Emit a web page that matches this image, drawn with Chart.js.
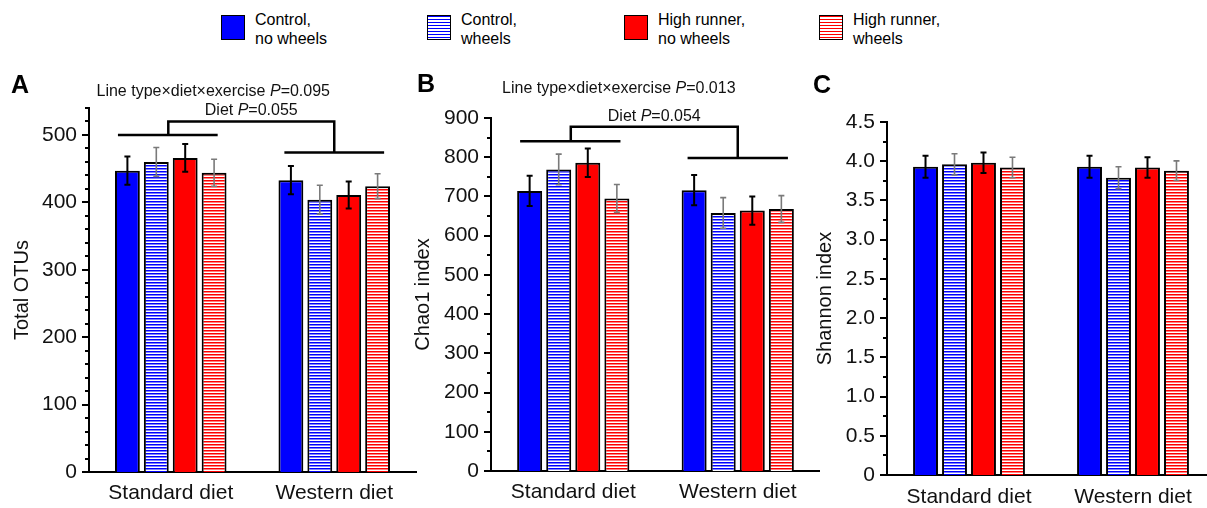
<!DOCTYPE html>
<html lang="en">
<head>
<meta charset="utf-8">
<title>Gut microbial diversity by line type, diet and exercise</title>
<script src="https://cdn.jsdelivr.net/npm/chart.js@4.4.1/dist/chart.umd.min.js"></script>
<style>
  html, body { margin: 0; padding: 0; background: #fff; }
  body { position: relative; width: 1207px; height: 508px; overflow: hidden;
         font-family: "Liberation Sans", Arial, Helvetica, sans-serif; color: #000; }
  canvas { position: absolute; top: 0; }
  #legend .sw { position: absolute; top: 15px; width: 24px; height: 25px; box-sizing: border-box; border: 1px solid #000; }
  #legend .lbl { position: absolute; top: 10px; font-size: 16px; line-height: 19px; white-space: nowrap; }
</style>
</head>
<body>
<div id="legend"></div>
<canvas id="panelA" width="420" height="508" style="left:0px"></canvas>
<canvas id="panelB" width="420" height="508" style="left:400px"></canvas>
<canvas id="panelC" width="420" height="508" style="left:800px"></canvas>
<script>
// ---- data -------------------------------------------------------------
const categories = ['Standard diet', 'Western diet'];
const seriesNames = [
  ['Control,', 'no wheels'],
  ['Control,', 'wheels'],
  ['High runner,', 'no wheels'],
  ['High runner,', 'wheels']
];

// one row per series, one column per diet: mean and SEM
const otuMean     = [[447, 433], [460, 404], [466, 411], [444, 424]];
const otuErr      = [[21, 21], [21.5, 21.5], [20.5, 20], [20, 18.5]];
const chaoMean    = [[714, 716], [769, 658], [786, 664], [695, 668]];
const chaoErr     = [[38.5, 38.5], [39, 39], [36.5, 36], [35.5, 34]];
const shannonMean = [[3.93, 3.93], [3.96, 3.79], [3.98, 3.92], [3.92, 3.88]];
const shannonErr  = [[0.14, 0.14], [0.135, 0.14], [0.13, 0.13], [0.13, 0.125]];

// y-axis tick labels
const otuTicks     = [0, 100, 200, 300, 400, 500];
const chaoTicks    = [0, 100, 200, 300, 400, 500, 600, 700, 800, 900];
const shannonTicks = [0, 0.5, 1.0, 1.5, 2.0, 2.5, 3.0, 3.5, 4.0, 4.5];

// ANOVA P values: line type x diet x exercise, diet
const otuP  = ['0.095', '0.055'];
const chaoP = ['0.013', '0.054'];

// ---- styling ----------------------------------------------------------
const FONT = '"Liberation Sans", Arial, Helvetica, sans-serif';
const BLUE = '#0000ff', RED = '#ff0000';

function stripes(color) {
  const c = document.createElement('canvas');
  c.width = 4; c.height = 3;
  const g = c.getContext('2d');
  g.fillStyle = '#fff'; g.fillRect(0, 0, 4, 3);
  g.fillStyle = color; g.fillRect(0, 0, 4, 1.5);
  return g.createPattern(c, 'repeat');
}

const seriesStyle = [
  { fill: BLUE,          css: BLUE, striped: false, err: '#000',    errW: 2 },
  { fill: stripes(BLUE), css: BLUE, striped: true,  err: '#7a7a7a', errW: 1.6 },
  { fill: RED,           css: RED,  striped: false, err: '#000',    errW: 2 },
  { fill: stripes(RED),  css: RED,  striped: true,  err: '#7a7a7a', errW: 1.6 }
];

// ---- legend -----------------------------------------------------------
const legendX = [221, 427, 624, 819];
const legend = document.getElementById('legend');
seriesNames.forEach((name, i) => {
  const st = seriesStyle[i];
  const sw = document.createElement('div');
  sw.className = 'sw';
  sw.style.left = legendX[i] + 'px';
  sw.style.background = st.striped
    ? `repeating-linear-gradient(to bottom, ${st.css} 0px, ${st.css} 1.5px, #fff 1.5px, #fff 3px)`
    : st.css;
  const lb = document.createElement('div');
  lb.className = 'lbl';
  lb.style.left = (legendX[i] + 34) + 'px';
  lb.innerHTML = name.join('<br>');
  legend.appendChild(sw);
  legend.appendChild(lb);
});

// ---- plugins ----------------------------------------------------------
function richText(ctx, parts, cx, baseY, size) {
  const widths = parts.map(([t, it]) => {
    ctx.font = `${it ? 'italic ' : ''}${size}px ${FONT}`;
    return ctx.measureText(t).width;
  });
  let x = cx - widths.reduce((a, b) => a + b, 0) / 2;
  ctx.textAlign = 'left';
  ctx.textBaseline = 'alphabetic';
  parts.forEach(([t, it], k) => {
    ctx.font = `${it ? 'italic ' : ''}${size}px ${FONT}`;
    ctx.fillText(t, x, baseY);
    x += widths[k];
  });
}

// major and minor tick marks on the value axis
const axisTicks = {
  id: 'axisTicks',
  afterDraw(chart, _args, o) {
    const ys = chart.scales.y, ctx = chart.ctx, x0 = chart.chartArea.left;
    ctx.save();
    ctx.strokeStyle = '#000';
    ctx.lineWidth = 2;
    const n = Math.round((ys.max - ys.min) / o.minor);
    for (let k = 0; k <= n; k++) {
      const v = ys.min + k * o.minor;
      const r = v / o.major;
      const len = Math.abs(r - Math.round(r)) < 1e-6 ? 7 : 4;
      const py = Math.round(ys.getPixelForValue(v));
      ctx.beginPath();
      ctx.moveTo(x0 - len, py);
      ctx.lineTo(x0, py);
      ctx.stroke();
    }
    ctx.restore();
  }
};

// mean +/- SEM whiskers
const errorBars = {
  id: 'errorBars',
  afterDatasetsDraw(chart) {
    const ys = chart.scales.y, ctx = chart.ctx;
    ctx.save();
    chart.data.datasets.forEach((ds, i) => {
      chart.getDatasetMeta(i).data.forEach((bar, j) => {
        const top = ys.getPixelForValue(ds.data[j] + ds.errors[j]);
        const bot = ys.getPixelForValue(ds.data[j] - ds.errors[j]);
        ctx.strokeStyle = ds.errorColor;
        ctx.lineWidth = ds.errorWidth;
        ctx.beginPath();
        ctx.moveTo(bar.x, top); ctx.lineTo(bar.x, bot);
        ctx.moveTo(bar.x - 3, top); ctx.lineTo(bar.x + 3, top);
        ctx.moveTo(bar.x - 3, bot); ctx.lineTo(bar.x + 3, bot);
        ctx.stroke();
      });
    });
    ctx.restore();
  }
};

// panel letter, diet bracket and P values
const statsNotes = {
  id: 'statsNotes',
  afterDraw(chart, _args, o) {
    const ctx = chart.ctx, xs = chart.scales.x, ys = chart.scales.y;
    ctx.save();
    ctx.fillStyle = '#000';
    ctx.textAlign = 'center';
    ctx.textBaseline = 'alphabetic';
    ctx.font = `bold 25px ${FONT}`;
    ctx.fillText(o.letter, o.letterX, o.letterY);
    if (o.p) {
      const c0 = xs.getPixelForValue(0), c1 = xs.getPixelForValue(1), w = c1 - c0;
      const [yL, yTop, yR] = o.bracket.map(v => ys.getPixelForValue(v));
      const lx = c0 - 0.015 * w;
      ctx.strokeStyle = '#000';
      ctx.lineWidth = 2.5;
      ctx.lineJoin = 'miter';
      ctx.beginPath();
      ctx.moveTo(c0 - 0.323 * w, yL); ctx.lineTo(c0 + 0.287 * w, yL);
      ctx.moveTo(lx, yL); ctx.lineTo(lx, yTop); ctx.lineTo(c1, yTop); ctx.lineTo(c1, yR);
      ctx.moveTo(c1 - 0.305 * w, yR); ctx.lineTo(c1 + 0.305 * w, yR);
      ctx.stroke();
      ctx.fillStyle = '#111';
      richText(ctx, [['Line type\u00d7diet\u00d7exercise ', false], ['P', true], ['=' + o.p[0], false]],
               c0 + o.noteShift * w, ys.getPixelForValue(o.text[0]), 16);
      richText(ctx, [['Diet ', false], ['P', true], ['=' + o.p[1], false]],
               (lx + c1) / 2, ys.getPixelForValue(o.text[1]), 16);
    }
    ctx.restore();
  }
};

// ---- panels -----------------------------------------------------------
function makePanel(id, cfg) {
  return new Chart(document.getElementById(id), {
    type: 'bar',
    data: {
      labels: categories,
      datasets: cfg.mean.map((m, i) => ({
        label: seriesNames[i].join(' '),
        data: m,
        errors: cfg.err[i],
        errorColor: seriesStyle[i].err,
        errorWidth: seriesStyle[i].errW,
        backgroundColor: seriesStyle[i].fill,
        borderColor: '#000',
        borderWidth: 2,
        borderSkipped: 'start',
        categoryPercentage: 0.707,
        barPercentage: 0.86
      }))
    },
    options: {
      responsive: false,
      animation: false,
      events: [],
      layout: { padding: { left: 0, right: cfg.padRight, top: cfg.padTop, bottom: 0 } },
      plugins: {
        legend: { display: false },
        tooltip: { enabled: false },
        axisTicks: { minor: cfg.minor, major: cfg.major },
        statsNotes: cfg.notes
      },
      scales: {
        x: {
          grid: { display: false, drawTicks: false },
          border: { display: true, color: '#000', width: 2 },
          ticks: { color: '#111', font: { family: FONT, size: 21 }, padding: cfg.xPad, maxRotation: 0 },
          afterFit: s => { s.height = cfg.xHeight; }
        },
        y: {
          min: 0,
          max: cfg.max,
          grid: { display: false, drawTicks: false },
          border: { display: true, color: '#000', width: 2 },
          ticks: { color: '#111', font: { family: FONT, size: 21 }, padding: 12, autoSkip: false,
                   callback: cfg.fmt },
          afterBuildTicks: s => { s.ticks = cfg.ticks.map(v => ({ value: v })); },
          title: { display: true, text: cfg.title, color: '#111',
                   font: { family: FONT, size: 20 }, padding: { top: cfg.titlePad, bottom: 0 } },
          afterFit: s => { s.width = cfg.yWidth; }
        }
      }
    },
    plugins: [axisTicks, errorBars, statsNotes]
  });
}

makePanel('panelA', {
  mean: otuMean, err: otuErr, ticks: otuTicks, max: 540, minor: 20, major: 100,
  fmt: v => String(v), title: 'Total OTUs',
  yWidth: 89, padTop: 108, padRight: 4, xHeight: 36, xPad: 9, titlePad: 10,
  notes: { letter: 'A', letterX: 20, letterY: 93, p: otuP,
           bracket: [500, 520, 474], text: [558, 529], noteShift: 0.26 }
});

makePanel('panelB', {
  mean: chaoMean, err: chaoErr, ticks: chaoTicks, max: 900, minor: 50, major: 100,
  fmt: v => String(v), title: 'Chao1 index',
  yWidth: 91, padTop: 118, padRight: 0, xHeight: 37, xPad: 9, titlePad: 11,
  notes: { letter: 'B', letterX: 26, letterY: 92, p: chaoP,
           bracket: [841, 878, 798], text: [964, 892], noteShift: 0.277 }
});

makePanel('panelC', {
  mean: shannonMean, err: shannonErr, ticks: shannonTicks, max: 4.5, minor: 0.25, major: 0.5,
  fmt: v => (v === 0 ? '0' : v.toFixed(1)), title: 'Shannon index',
  yWidth: 87, padTop: 122, padRight: 5, xHeight: 33, xPad: 10, titlePad: 13,
  notes: { letter: 'C', letterX: 22, letterY: 93 }
});
</script>
</body>
</html>
